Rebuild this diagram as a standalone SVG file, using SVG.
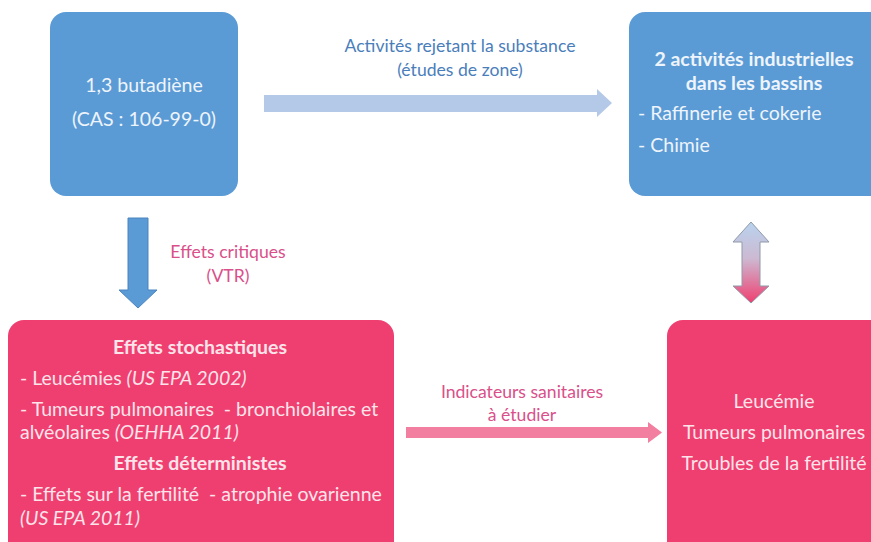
<svg xmlns="http://www.w3.org/2000/svg" width="871" height="542" viewBox="0 0 871 542">
<defs>
<style>
text{font-family:Lato,"Liberation Sans",sans-serif;}
.blue{fill:#5b9bd5;}
.pink{fill:#ef3f70;}
.wt{fill:#eef4fb;font-size:19.5px;}
.pt{fill:#fde3ea;font-size:19.5px;}
.lbl{font-size:17.6px;}
.b{font-weight:bold;}
.i{font-style:italic;}
</style>
<linearGradient id="dg" x1="0" y1="0" x2="0" y2="1">
<stop offset="0" stop-color="#b9d3ee"/>
<stop offset="0.45" stop-color="#cdb9d2"/>
<stop offset="1" stop-color="#ef3f70"/>
</linearGradient>
</defs>
<rect width="871" height="542" fill="#ffffff"/>

<g id="n-butadiene">
<rect class="blue" x="50" y="12" width="188" height="184" rx="16"/>
<text class="wt" x="144" y="92" text-anchor="middle">1,3 butadiène</text>
<text class="wt" x="144" y="126" text-anchor="middle">(CAS : 106-99-0)</text>
</g>

<g id="n-activites">
<rect class="blue" x="629" y="12" width="260" height="184" rx="16"/>
<text class="wt b" x="754" y="66" text-anchor="middle">2 activités industrielles</text>
<text class="wt b" x="754" y="90" text-anchor="middle">dans les bassins</text>
<text class="wt" x="638" y="120">- Raffinerie et cokerie</text>
<text class="wt" x="638" y="152">- Chimie</text>
</g>

<g id="n-effets">
<rect class="pink" x="8" y="320" width="386" height="240" rx="16"/>
<text class="pt b" x="200" y="354" text-anchor="middle">Effets stochastiques</text>
<text class="pt" x="20" y="385">- Leucémies <tspan class="i">(US EPA 2002)</tspan></text>
<text class="pt" x="20" y="416" xml:space="preserve">- Tumeurs pulmonaires  - bronchiolaires et</text>
<text class="pt" x="20" y="439">alvéolaires <tspan class="i">(OEHHA 2011)</tspan></text>
<text class="pt b" x="200" y="470" text-anchor="middle">Effets déterministes</text>
<text class="pt" x="20" y="501" xml:space="preserve">- Effets sur la fertilité  - atrophie ovarienne</text>
<text class="pt i" x="20" y="525">(US EPA 2011)</text>
</g>

<g id="n-indicateurs">
<rect class="pink" x="667" y="320" width="230" height="240" rx="16"/>
<text class="pt" x="774" y="408" text-anchor="middle">Leucémie</text>
<text class="pt" x="774" y="439" text-anchor="middle">Tumeurs pulmonaires</text>
<text class="pt" x="774" y="470" text-anchor="middle">Troubles de la fertilité</text>
</g>

<g id="connectors">
<polygon points="264,95 597,95 597,89 612,103 597,117 597,112 264,112" fill="#b4c8e8"/>
<text class="lbl" x="460" y="52" text-anchor="middle" fill="#4a7ebb">Activités rejetant la substance</text>
<text class="lbl" x="460" y="76" text-anchor="middle" fill="#4a7ebb">(études de zone)</text>

<polygon points="128,218 148,218 148,290 157,290 138,308 119,290 128,290" fill="#5b9bd5" stroke="#4a84bf" stroke-width="1"/>
<text class="lbl" x="228" y="258" text-anchor="middle" fill="#d9508a">Effets critiques</text>
<text class="lbl" x="228" y="282" text-anchor="middle" fill="#d9508a">(VTR)</text>

<polygon points="406,427 648,427 648,422 662,432.5 648,443 648,438 406,438" fill="#f27ea0"/>
<text class="lbl" x="522" y="398" text-anchor="middle" fill="#d9508a">Indicateurs sanitaires</text>
<text class="lbl" x="522" y="421" text-anchor="middle" fill="#d9508a">à étudier</text>

<polygon points="751,222 769,242 760,242 760,286 769,286 751,303 733,286 742,286 742,242 733,242" fill="url(#dg)" stroke="#8f9aaa" stroke-width="1"/>
</g>
</svg>
